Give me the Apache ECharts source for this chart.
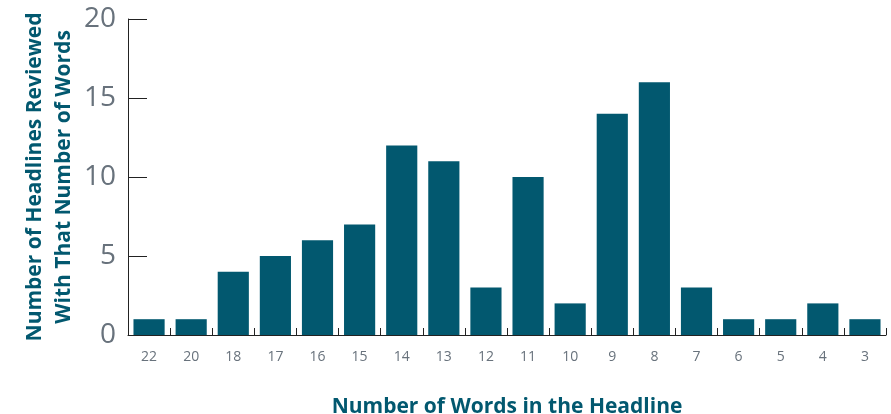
<!DOCTYPE html>
<html>
<head>
<meta charset="utf-8">
<script src="https://cdn.jsdelivr.net/npm/echarts@6/dist/echarts.min.js"></script>
<style>
  html, body { margin: 0; padding: 0; background: #ffffff; }
  #chart { width: 891px; height: 414px; }
</style>
</head>
<body>
<div id="chart"></div>
<script>
// Headline lengths (words) and how many headlines had each length
const wordCounts = ['22', '20', '18', '17', '16', '15', '14', '13', '12', '11', '10', '9', '8', '7', '6', '5', '4', '3'];
const headlineTotals = [1, 1, 4, 5, 6, 7, 12, 11, 3, 10, 2, 14, 16, 3, 1, 1, 2, 1];
const yTicks = [0, 5, 10, 15, 20];

const teal = '#02586f';
const labelGray = '#68727c';
const titleFont = '"Open Sans", "Noto Sans", sans-serif';

const chart = echarts.init(document.getElementById('chart'), null, { renderer: 'canvas' });

chart.setOption({
  animation: false,
  grid: { left: 128, right: 5, top: 19, bottom: 79, containLabel: false, outerBoundsMode: 'none' },
  xAxis: {
    type: 'category',
    data: wordCounts,
    name: 'Number of Words in the Headline',
    nameLocation: 'middle',
    nameGap: 62,
    nameMoveOverlap: false,
    nameTextStyle: { color: teal, fontSize: 21, fontWeight: 'bold', fontFamily: titleFont },
    axisLine: { show: true, lineStyle: { color: '#222222', width: 1 } },
    axisTick: { show: true, inside: true, length: 7, lineStyle: { color: '#222222' } },
    axisLabel: { color: labelGray, fontSize: 14, margin: 15, fontFamily: titleFont }
  },
  yAxis: {
    type: 'value',
    min: yTicks[0],
    max: yTicks[yTicks.length - 1],
    interval: 5,
    name: 'Number of Headlines Reviewed\nWith That Number of Words',
    nameLocation: 'middle',
    nameGap: 49,
    nameMoveOverlap: false,
    nameRotate: 90,
    nameTextStyle: { color: teal, fontSize: 21, fontWeight: 'bold', lineHeight: 29, fontFamily: titleFont },
    axisLine: { show: true, lineStyle: { color: '#222222', width: 1 } },
    axisTick: { show: true, inside: true, length: 19, lineStyle: { color: '#222222' } },
    splitLine: { show: false },
    axisLabel: { color: labelGray, fontSize: 28, margin: 12, fontFamily: titleFont }
  },
  series: [{
    type: 'bar',
    data: headlineTotals,
    barCategoryGap: '26%',
    itemStyle: { color: teal }
  }]
});
</script>
</body>
</html>
